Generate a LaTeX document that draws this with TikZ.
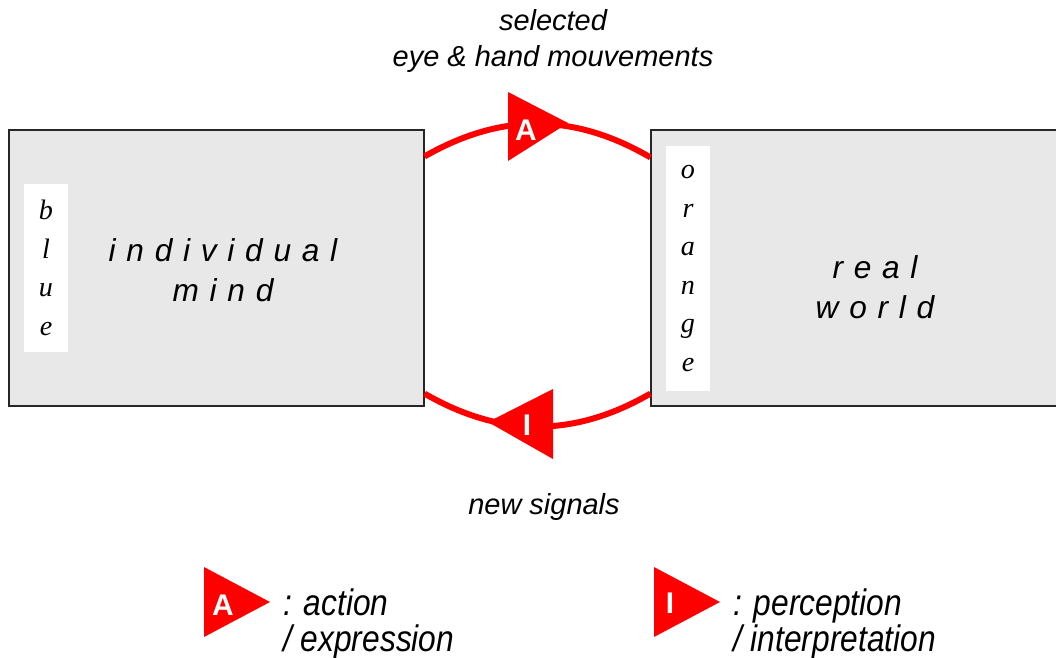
\documentclass[tikz,border=0pt]{standalone}
\usepackage{fontspec}
\newfontfamily\capfont{Liberation Sans}
\newfontfamily\letterfont{Liberation Serif}
\newfontfamily\narrowfont[FakeStretch=0.86]{Liberation Sans}
\newfontfamily\spacedfont[LetterSpace=34]{Liberation Sans}
\usetikzlibrary{positioning}

\definecolor{boxgray}{HTML}{E8E8E8}

\tikzset{
    world/.style={draw=black!85, fill=boxgray, line width=0.7pt,
        minimum height=5.52cm, inner sep=0pt},
    strip/.style={fill=white, minimum width=0.88cm, inner sep=0pt, align=center,
        font=\fontsize{16}{22}\selectfont\letterfont\itshape},
    bigtext/.style={align=center, font=\fontsize{18}{22.5}\selectfont\spacedfont\itshape},
    loop/.style={red, line width=3.4pt},
    tri/.style={fill=red},
    marker/.style={text=white, inner sep=0pt, font=\fontsize{17}{17}\selectfont\capfont\bfseries},
    caption/.style={align=center, font=\fontsize{16.5}{20.4}\selectfont\capfont\itshape},
    legend/.style={align=left, anchor=west, font=\fontsize{21}{20.8}\selectfont\narrowfont\itshape}
}

\begin{document}
\begin{tikzpicture}[x=0.02cm, y=-0.02cm]
    \useasboundingbox (0,0) rectangle (1056,657);

    % the two boxes
    \node[world, minimum width=8.3cm] (mind) at (216.5,268) {};
    \node[world, minimum width=8.22cm] (world) at (856.5,268) {};

    % white strips with the colour words
    \node[strip, minimum height=3.36cm] (blue) at (46,268) {b\\l\\u\\e};
    \node[strip, minimum height=4.92cm] (orange) at (688,268.5) {o\\r\\a\\n\\g\\e};

    \node[bigtext] (mindtext) at (223,270) {individual\\mind};
    \node[bigtext] (worldtext) at (875,287) {real\\world};

    % the loop between mind and world
    \draw[loop] ([yshift=-0.54cm]mind.north east) to[bend left=30] ([yshift=-0.56cm]world.north west);
    \draw[loop] ([yshift=0.26cm]world.south west) to[bend left=30] ([yshift=0.26cm]mind.south east);

    % markers on the loop
    \coordinate (actpos) at (526,130);
    \fill[tri] ([shift={(-18,-38)}]actpos) -- ([shift={(42,-7)}]actpos) -- ([shift={(-18,31)}]actpos) -- cycle;
    \node[marker] (act) at (actpos) {A};

    \coordinate (perpos) at (527,425);
    \fill[tri] ([shift={(26,-36)}]perpos) -- ([shift={(-39,-3)}]perpos) -- ([shift={(26,34)}]perpos) -- cycle;
    \node[marker] (per) at (perpos) {I};

    \node[caption] (toptext) at (553,41) {selected\\eye \& hand mouvements};
    \node[caption] (bottomtext) at (544,507) {new signals};

    % legend
    \coordinate (legApos) at (223,605);
    \fill[tri] ([shift={(-19,-38)}]legApos) -- ([shift={(47,-3)}]legApos) -- ([shift={(-19,32)}]legApos) -- cycle;
    \node[marker] (legA) at (legApos) {A};
    \node[legend] (legAtext) at (277,624) {: action\\/ expression};

    \coordinate (legIpos) at (670,603);
    \fill[tri] ([shift={(-16,-36)}]legIpos) -- ([shift={(50,-1)}]legIpos) -- ([shift={(-16,34)}]legIpos) -- cycle;
    \node[marker] (legI) at (legIpos) {I};
    \node[legend] (legItext) at (727,624) {: perception\\/ interpretation};
\end{tikzpicture}
\end{document}
